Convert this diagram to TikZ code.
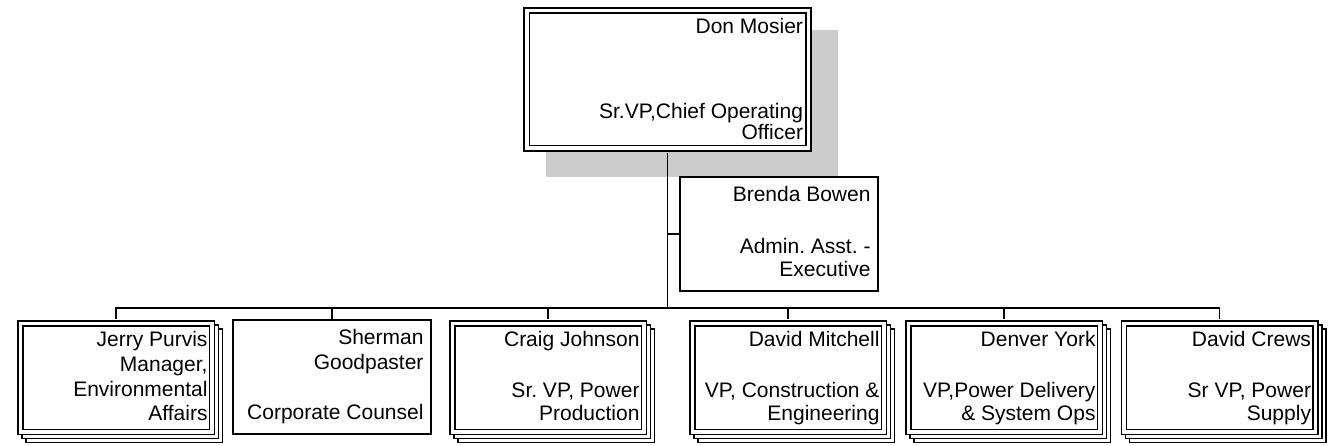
\documentclass[tikz,border=0pt]{standalone}
\usepackage{fontspec}
\setmainfont{Liberation Sans}
\usetikzlibrary{shadows,backgrounds}
\definecolor{shadowgray}{gray}{0.8}
% text of one box: top part, then bottom part pushed down
\newcommand{\cardtext}[2]{\parbox[c][\cardh][s]{\cardw}{\raggedleft
  \vskip\padt\strut#1\par\vfill#2\strut\par\vskip\padb}}

\begin{document}
\begin{tikzpicture}[x=1pt,y=-1pt,line width=1.5pt,
  every node/.style={font=\fontsize{21}{23}\selectfont\frenchspacing,inner sep=0pt},
  card/.style={draw,fill=white,minimum width=198pt,
    execute at begin node={\def\cardw{183pt}\def\cardh{114pt}\def\padt{8.2pt}\def\padb{7.7pt}}},
  dcard/.style={draw,fill=white,double=white,double distance=3.5pt,minimum width=191.5pt,
    execute at begin node={\def\cardw{183pt}\def\cardh{108.5pt}\def\padt{6.7pt}\def\padb{3.9pt}}},
  stackcard/.style={dcard,
    copy shadow={shadow xshift=8pt,shadow yshift=-8pt,line width=1.5pt,double=white,double distance=3.5pt},
    copy shadow={shadow xshift=4pt,shadow yshift=-4pt,line width=1.5pt,double=white,double distance=3.5pt}},
  topcard/.style={draw,fill=white,line width=1.7pt,double=white,double distance=3.8pt,minimum width=281.8pt,
    execute at begin node={\def\cardw{271pt}\def\cardh{137.8pt}\def\padt{6.6pt}\def\padb{2.2pt}}},
  link/.style={line width=1.8pt}]
\useasboundingbox (0,0) rectangle (1329,446);

%chief
\node[topcard] (don) at (667.5,79.5)
  {\cardtext{Don Mosier}{Sr.VP,Chief Operating\\[-2pt]Officer}};
\begin{scope}[on background layer]
\fill[shadowgray] ([shift={(20.4,20.4)}]don.north west) rectangle ([shift={(28.6,27.6)}]don.south east);
\end{scope}

%assistant
\node[card] (brenda) at (779,234)
  {\cardtext{Brenda Bowen}{Admin. Asst. -\\Executive}};

%reports
\node[stackcard] (jerry) at (116,377.5)
  {\cardtext{Jerry Purvis\\[2pt]Manager,\\[2pt]Environmental}{Affairs}};
\node[card] (sherman) at (332,377)
  {\cardtext{Sherman\\[2pt]Goodpaster}{Corporate Counsel}};
\node[stackcard] (craig) at (548,377.5)
  {\cardtext{Craig Johnson}{Sr. VP, Power\\Production}};
\node[stackcard] (mitchell) at (788,377.5)
  {\cardtext{David Mitchell}{VP, Construction \&\\Engineering}};
\node[stackcard] (denver) at (1004,377.5)
  {\cardtext{Denver York}{VP,Power Delivery\\\& System Ops}};
\node[stackcard] (crews) at (1219.5,377.5)
  {\cardtext{David Crews}{Sr VP, Power\\Supply}};

%lines
\coordinate (bus) at (667.5,308);
\draw[link,shorten <=3.6pt] (don.south) -- (bus);
\draw[link] (brenda.west) -- (brenda.west -| bus);
\draw[link,shorten <=3.2pt,shorten >=3.2pt] (jerry.north) -- (jerry.north |- bus)
  -- (crews.north |- bus) -- (crews.north);
\draw[link] (sherman.north) -- (sherman.north |- bus);
\foreach \n in {craig,mitchell,denver}
  \draw[link,shorten <=3.2pt] (\n.north) -- (\n.north |- bus);
\end{tikzpicture}
\end{document}
